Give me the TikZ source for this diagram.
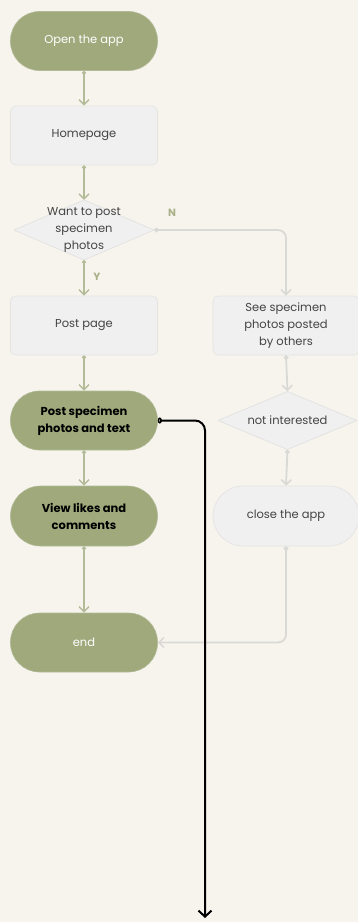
\documentclass[tikz,border=0pt]{standalone}
\usepackage{fontspec}
\setmainfont{Poppins}
\usetikzlibrary{arrows.meta}
\definecolor{bgc}{HTML}{F7F4EE}
\definecolor{olive}{HTML}{9FA97B}
\definecolor{oliveline}{HTML}{B4BB99}
\definecolor{grayline}{HTML}{D9D9D6}
\definecolor{boxfill}{HTML}{F0F0F0}
\definecolor{boxdraw}{HTML}{E3E3E1}
\definecolor{txt}{HTML}{444444}
\begin{document}
\begin{tikzpicture}[x=1pt,y=-1pt,
  base/.style={inner sep=0pt, align=center, font=\fontsize{11.5}{17}\selectfont},
  greenstad/.style={base, fill=olive, draw=olive!80!white, line width=0.6pt, minimum width=147pt, minimum height=59pt, rounded corners=29pt},
  graybox/.style={base, fill=boxfill, draw=boxdraw, line width=0.6pt, minimum width=147pt, minimum height=59pt, rounded corners=5pt, text=txt},
  graystad/.style={graybox, rounded corners=29pt},
  graydia/.style={base, rectangle, minimum width=140pt, minimum height=60pt, text=txt,
    path picture={
      \path[fill=boxfill, draw=boxdraw, line width=0.8pt]
        (path picture bounding box.north) -- (path picture bounding box.east)
        -- (path picture bounding box.south) -- (path picture bounding box.west) -- cycle;
    }},
  oarrow/.style={draw=oliveline, line width=1.4pt, {Circle[length=4pt]}-{Straight Barb[length=5pt,width=10pt,line width=1.4pt]}},
  garrow/.style={draw=grayline, line width=1.8pt, rounded corners=8pt, {Circle[length=4.5pt]}-{Straight Barb[length=5pt,width=10pt,line width=1.6pt]}},
  lab/.style={font=\fontsize{10.5}{12}\selectfont\bfseries, text=olive!90!white}
]
\useasboundingbox[fill=bgc] (0,0) rectangle (358,922);

\node[greenstad, text=white] (open) at (84,41) {Open the app};
\node[graybox] (home) at (84,135.5) {Homepage};
\node[graydia] (want) at (84,230) {Want to post\\specimen\\photos};
\node[graybox] (post) at (84,325.5) {Post page};
\node[graybox, minimum width=146pt] (see) at (286,325.5) {See specimen\\photos posted\\by others};
\node[graydia, minimum width=139pt, minimum height=58pt] (notint) at (287.5,420.5) {not interested};
\node[graystad, minimum width=146pt, minimum height=60pt, rounded corners=30pt] (close) at (286,516) {close the app};
\node[greenstad, text=black, font=\fontsize{11.5}{17}\selectfont\bfseries] (postspec) at (84,420.5) {Post specimen\\photos and text};
\node[greenstad, text=black, font=\fontsize{11.5}{17}\selectfont\bfseries, minimum height=60pt, rounded corners=30pt] (view) at (84,516) {View likes and\\comments};
\node[greenstad, text=white] (end) at (84,642.5) {end};

\node[lab] (nlab) at (172,213) {N};
\node[lab] (ylab) at (97,277) {Y};

\draw[oarrow] (open.south) -- (home.north);
\draw[oarrow] (home.south) -- (want.north);
\draw[oarrow] (want.south) -- (post.north);
\draw[oarrow] (post.south) -- (postspec.north);
\draw[oarrow] (postspec.south) -- (view.north);
\draw[oarrow] (view.south) -- (end.north);

\draw[garrow] (want.east) -| (see.north);
\draw[garrow] (see.south) -- (notint.north);
\draw[garrow] (notint.south) -- (close.north);
\draw[garrow] (close.south) |- (end.east);

\coordinate (bottom) at (205,918);
\draw[black, line width=2pt, rounded corners=10pt, {Ellipse[open, length=4pt, width=6pt, line width=1.5pt]}-{Straight Barb[length=6pt,width=13pt,line width=2pt]}] (postspec.east) -| (bottom);
\end{tikzpicture}
\end{document}
